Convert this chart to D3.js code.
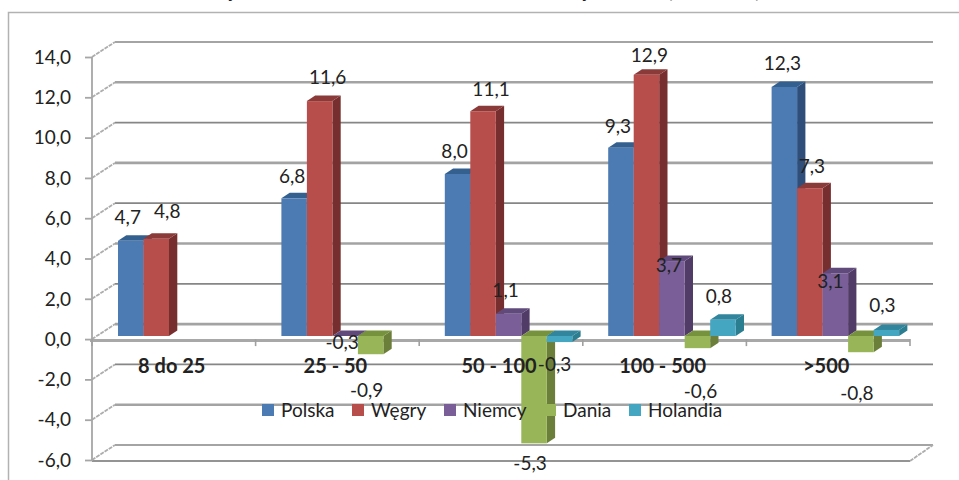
<!DOCTYPE html>
<html lang="pl">
<head>
<meta charset="utf-8">
<title>Wykres</title>
<script src="https://cdnjs.cloudflare.com/ajax/libs/d3/7.8.5/d3.min.js"></script>
<style>
  html, body { margin: 0; padding: 0; background: #fff; overflow: hidden; }
  svg { display: block; }
  text { font-family: Lato, "Open Sans", sans-serif; fill: #222; }
</style>
</head>
<body>
<svg id="chart" width="959" height="480"></svg>
<script>
const categories = ["8 do 25", "25 - 50", "50 - 100", "100 - 500", ">500"];
const seriesNames = ["Polska", "Węgry", "Niemcy", "Dania", "Holandia"];
const polska  = [4.7, 6.8, 8.0, 9.3, 12.3];
const wegry   = [4.8, 11.6, 11.1, 12.9, 7.3];
const niemcy  = [null, -0.3, 1.1, 3.7, 3.1];
const dania   = [null, -0.9, -5.3, -0.6, -0.8];
const holandia = [null, null, -0.3, 0.8, 0.3];
const seriesValues = [polska, wegry, niemcy, dania, holandia];
const yTicks = [14, 12, 10, 8, 6, 4, 2, 0, -2, -4, -6];

// Label offsets from each bar's end, per series then category [dx, dy]
const nudgePolska  = [[-3,-17],[-2,-15],[-3,-16],[-3,-15],[-2,-17]];
const nudgeWegry   = [[11,-21],[8,-17],[8,-15],[3,-13],[2,-15]];
const nudgeNiemcy  = [null,[-3,7],[-3,-17],[-3,11],[-5,15]];
const nudgeDania   = [null,[-4,43],[-4,27],[3,50],[-4,48]];
const nudgeHolandia = [null,null,[-5,29],[-4,-17],[-4,-18]];
const nudges = [nudgePolska, nudgeWegry, nudgeNiemcy, nudgeDania, nudgeHolandia];

const colors = [
  {front:"#4c7ab3", side:"#2f4f7a", top:"#34608f"},
  {front:"#b84e4b", side:"#772e2e", top:"#8a3a38"},
  {front:"#7a5e97", side:"#513c68", top:"#604a7b"},
  {front:"#98b658", side:"#6b7f3a", top:"#76923c"},
  {front:"#44a6c0", side:"#2b7d90", top:"#31859c"}
];

const svg = d3.select("#chart");
const W = 959, H = 480;
const wall = {dx: 23, dy: -15};     // wall depth of the 3-D box
const bar  = {dx: 8.3, dy: -5.5};   // depth of a single bar

// Front plane of the box
const y = d3.scaleLinear().domain([-6, 14]).range([460, 57]);
const x = d3.scaleBand().domain(categories.map((_, i) => i)).range([92, 910]);
// Plane the bars stand in
const yBar = d3.scaleLinear().domain([-6, 14]).range([457.5, 52.5]);
const xBar = d3.scaleBand().domain(categories.map((_, i) => i)).range([100, 917]);
const xSeries = d3.scaleBand().domain(seriesNames.map((_, i) => i))
  .range([18, 18 + 127.5]);

// Chart frame: top and left only
svg.append("path").attr("d", `M8.5,${H}V12.5H${W}`).attr("fill", "none")
  .attr("stroke", "#b2b2b2").attr("stroke-width", 1.5);

// Title: only the descenders are left inside the picture
const titleFragments = [["y", 232], ["y", 586], ["(", 670], [")", 758]];
svg.selectAll("text.title").data(titleFragments).join("text")
  .attr("class", "title").attr("x", d => d[1]).attr("y", -3)
  .attr("text-anchor", "middle").attr("font-size", 23).attr("font-weight", 700)
  .text(d => d[0]);

// Back-wall gridlines
svg.selectAll("line.grid").data(yTicks).join("line").attr("class", "grid")
  .attr("x1", 92 + wall.dx).attr("x2", 910 + wall.dx)
  .attr("y1", d => y(d) + wall.dy).attr("y2", d => y(d) + wall.dy)
  .attr("stroke", (d, i) => i % 2 ? "#a3a3a3" : "#868686")
  .attr("stroke-width", (d, i) => i % 2 ? 2.6 : 1.7);

// Side-wall diagonals
svg.selectAll("line.diag").data(yTicks).join("line").attr("class", "diag")
  .attr("x1", 92).attr("x2", 92 + wall.dx)
  .attr("y1", d => y(d)).attr("y2", d => y(d) + wall.dy)
  .attr("stroke", "#adadad").attr("stroke-width", 1.8).attr("stroke-dasharray", "4 1");

// Floor
svg.append("path")
  .attr("d", `M92,${y(-6) + 1}H910`)
  .attr("fill", "none").attr("stroke", "#949494").attr("stroke-width", 1.8);
svg.append("line").attr("x1", 910).attr("y1", y(-6) + 1).attr("x2", 910 + wall.dx).attr("y2", y(-6) + wall.dy)
  .attr("stroke", "#adadad").attr("stroke-width", 1.8).attr("stroke-dasharray", "4 1");

// Value axis
const fmt = d3.formatLocale({decimal: ",", thousands: " ", grouping: [3], currency: ["", ""], minus: "-"}).format(".1f");
const gY = svg.append("g").attr("transform", "translate(92,0)")
  .call(d3.axisLeft(y).tickValues(yTicks).tickFormat(fmt).tickSize(7).tickPadding(14));
gY.selectAll("path,line").attr("stroke", "#a6a6a6").attr("stroke-width", 1.8);
gY.select(".domain").attr("d", `M0,${y(14)}V${y(-6) + 1}`);
gY.selectAll("text").attr("font-size", 19).attr("font-family", "Lato").attr("fill", "#222").attr("dy", "0.33em");

// Category axis line and ticks at band edges
svg.append("line").attr("x1", 90).attr("x2", 910).attr("y1", y(0) + 1.5).attr("y2", y(0) + 1.5)
  .attr("stroke", "#a8a8a8").attr("stroke-width", 3);
svg.selectAll("line.xt").data(d3.range(categories.length + 1)).join("line").attr("class", "xt")
  .attr("x1", d => 92 + d * x.step()).attr("x2", d => 92 + d * x.step())
  .attr("y1", y(0)).attr("y2", y(0) + 7)
  .attr("stroke", "#a0a0a0").attr("stroke-width", 1.6);

// Bars
const faceless = new Set(["2-1"]); // its front face does not show in the picture
seriesValues.forEach((vals, s) => {
  const g = svg.append("g").attr("class", "series");
  const w = xSeries.bandwidth();
  vals.forEach((v, c) => {
    if (v === null) return;
    const x0 = xBar(c) + xSeries(s), x1 = x0 + w;
    const yTop = Math.min(yBar(v), yBar(0)), yBot = Math.max(yBar(v), yBar(0));
    g.append("polygon").attr("fill", colors[s].side)
      .attr("points", [[x1, yTop], [x1 + bar.dx, yTop + bar.dy], [x1 + bar.dx, yBot + bar.dy], [x1, yBot]].join(" "));
    g.append("polygon").attr("fill", colors[s].top)
      .attr("points", [[x0, yTop], [x0 + bar.dx, yTop + bar.dy], [x1 + bar.dx, yTop + bar.dy], [x1, yTop]].join(" "));
    if (!faceless.has(s + "-" + c))
      g.append("rect").attr("x", x0).attr("y", yTop).attr("width", w).attr("height", yBot - yTop)
        .attr("fill", colors[s].front);
  });
});

// Category labels
svg.selectAll("text.cat").data(categories).join("text").attr("class", "cat")
  .attr("x", (d, i) => x(i) + x.bandwidth() / 2 - 2).attr("y", y(0) + 34)
  .attr("text-anchor", "middle").attr("font-size", 20).attr("font-weight", 700)
  .text(d => d);

// Legend
const legendSwatch = [262, 352, 444, 544, 629];
const legend = svg.selectAll("g.leg").data(seriesNames).join("g").attr("class", "leg")
  .attr("transform", (d, i) => `translate(${legendSwatch[i]},404)`);
legend.append("rect").attr("width", 12).attr("height", 12).attr("fill", (d, i) => colors[i].front);
legend.append("text").attr("x", 19).attr("y", 13).attr("font-size", 19).text(d => d);

// Data labels
seriesValues.forEach((vals, s) => {
  vals.forEach((v, c) => {
    if (v === null) return;
    const n = nudges[s][c];
    svg.append("text").attr("class", "lab")
      .attr("x", xBar(c) + xSeries(s) + xSeries.bandwidth() / 2 + n[0])
      .attr("y", yBar(v) + n[1])
      .attr("text-anchor", "middle").attr("font-size", 19)
      .text(fmt(v));
  });
});
</script>
</body>
</html>
